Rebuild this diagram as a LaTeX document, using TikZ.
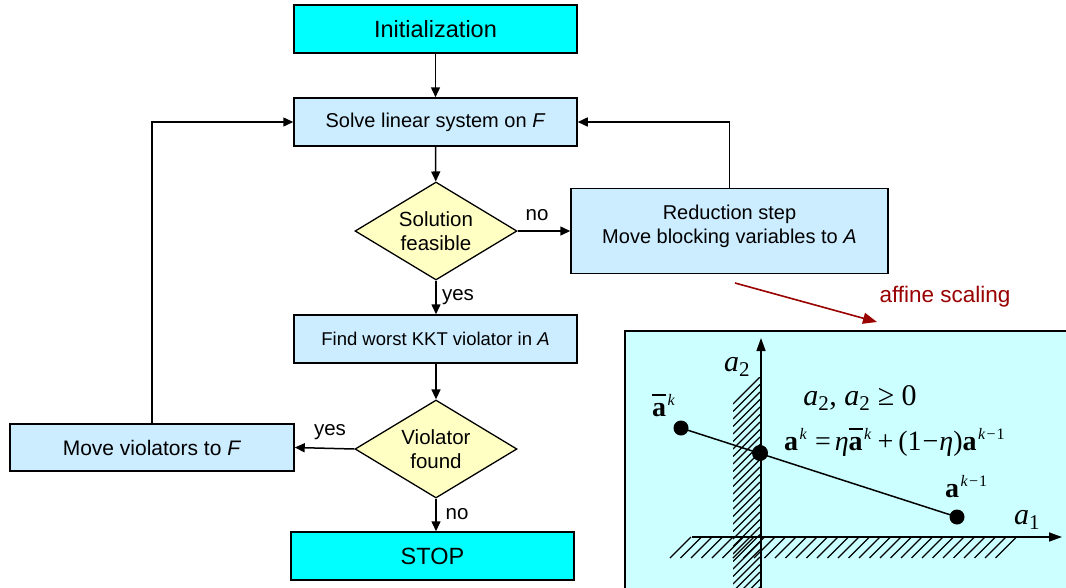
\documentclass[tikz,border=0pt]{standalone}
\usepackage{fontspec}
\setmainfont{Liberation Sans}
\newfontfamily\tnr{Liberation Serif}
\usetikzlibrary{arrows.meta,shapes.geometric}
\definecolor{cyanbox}{HTML}{00FFFF}
\definecolor{lightblue}{HTML}{CCECFF}
\definecolor{lightyellow}{HTML}{FFFFC4}
\definecolor{panelcol}{HTML}{CCFFFF}
\definecolor{darkred}{HTML}{990000}
\newcommand\sps[1]{\hspace{1.5pt}\raisebox{10.5pt}{\fontsize{16}{16}\selectfont #1}}
\newcommand\abar{\rlap{\rule[20pt]{14pt}{1.6pt}}\textbf{a}}
\begin{document}
\begin{tikzpicture}[x=1pt,y=-1pt,
  box/.style={draw, line width=1.5pt, minimum width=283pt, minimum height=48pt, inner sep=0pt, fill=lightblue, font=\fontsize{20}{24}\selectfont},
  cbox/.style={box, fill=cyanbox, font=\fontsize{23.5}{28}\selectfont},
  dec/.style={diamond, draw, fill=lightyellow, line width=1.3pt, inner sep=0pt, aspect=1.65, minimum width=162pt, minimum height=98pt, align=center, font=\fontsize{20.5}{24.5}\selectfont},
  conn/.style={line width=1.5pt, -{Triangle[length=10pt,width=9pt]}},
  lbl/.style={font=\fontsize{20.5}{24}\selectfont, inner sep=0pt},
  hatch/.style={line width=1.1pt},
  axis/.style={line width=1.5pt, -{Triangle[length=13pt,width=9pt]}},
  dot/.style={circle, fill=black, inner sep=0pt, minimum size=15pt},
  mathlbl/.style={inner sep=0pt, font=\tnr\fontsize{30}{30}\selectfont},
  formlbl/.style={inner sep=0pt, font=\tnr\fontsize{28}{28}\selectfont}
]
\useasboundingbox (0,0) rectangle (1066,587);

% flowchart
\node[cbox] (init) at (435.5,29) {Initialization};
\node[box] (solve) at (435.5,122) {Solve linear system on \textit{F}};
\node[dec] (d1) at (436,231) {Solution\\feasible};
\node[box, minimum width=317pt, minimum height=85pt,
  label={[anchor=north, align=center, inner sep=0pt, yshift=-17pt, font=\fontsize{20}{24}\selectfont]north:{Reduction step\\Move blocking variables to \textit{A}}}] (red) at (729.5,231) {};
\node[box, font=\fontsize{18.5}{22}\selectfont] (find) at (435.5,339) {Find worst KKT violator in \textit{A}};
\node[dec] (d2) at (436,449) {Violator\\found};
\node[box, minimum width=284pt, minimum height=47pt, font=\fontsize{21}{25}\selectfont] (move) at (152,447.5) {Move violators to \textit{F}};
\node[cbox] (stop) at (432.5,556) {STOP};

\draw[conn] (init) -- (solve);
\draw[conn] (solve) -- (d1);
\draw[conn] (d1.east) -- (red.west);
\node[lbl] (lno1) at (537,215) {no};
\draw[conn] (red.north) |- (solve.east);
\draw[conn] (d1.south) -- (d1.south |- find.north);
\node[lbl] (lyes1) at (458,297) {yes};
\draw[conn] (find.south -| d2.north) -- (d2.north);
\draw[conn] (d2.west) -- (move.east);
\node[lbl] (lyes2) at (330,432) {yes};
\draw[conn] (move.north) |- (solve.west);
\draw[conn] (d2.south) -- (d2.south |- stop.north);
\node[lbl] (lno2) at (457,514) {no};

% affine scaling arrow
\coordinate (rs) at (735,283);
\coordinate (re) at (877,322);
\draw[darkred, line width=1.6pt, -{Triangle[length=14pt,width=11pt]}] (rs) -- (re);
\node[inner sep=0pt, text=darkred, font=\fontsize{22.5}{26}\selectfont] (aff) at (945,297) {affine scaling};

% panel
\fill[panelcol] (625,331) rectangle (1075,595);
\draw[line width=1.5pt] (625,595) -- (625,331) -- (1075,331);

% hatching
\begin{scope}
  \clip (733,377) rectangle (760,595);
  \foreach \y in {377,384.5,...,600} \draw[hatch] (733,\y+27) -- (760,\y);
\end{scope}
\foreach \x in {670,680.5,...,1000} \draw[hatch] (\x,558) -- (\x+21,537);

% axes
\coordinate (ybot) at (761,590);
\coordinate (ytop) at (761,338);
\coordinate (xleft) at (692,537);
\coordinate (xright) at (1062,537);
\draw[axis] (ybot) -- (ytop);
\draw[axis] (xleft) -- (xright);

% segment and points
\coordinate (pa) at (681,428);
\coordinate (pb) at (760,453);
\coordinate (pc) at (957,517);
\draw[line width=1.5pt] (pa) -- (pc);
\node[dot] (dpa) at (pa) {};
\node[dot, minimum size=16pt] (dpb) at (pb) {};
\node[dot] (dpc) at (pc) {};

% labels
\node[mathlbl] (la2) at (737,367) {\textit{a}\textsubscript{2}};
\node[mathlbl] (la1) at (1027,520) {\textit{a}\textsubscript{1}};
\node[mathlbl] (cons) at (860,398) {\textit{a}\textsubscript{2}, \textit{a}\textsubscript{2} ≥ 0};
\node[formlbl, anchor=base west] (labar) at (652,416) {\abar\sps{\textit{k}}};
\node[formlbl, anchor=base west] (lform) at (784,450) {\textbf{a}\sps{\textit{k}}\hspace{8pt}=\hspace{4pt}\textit{η}\abar\sps{\textit{k}}\hspace{6pt}+\hspace{5pt}(1\hspace{1pt}−\hspace{1pt}\textit{η})\textbf{a}\sps{\textit{k}\hspace{1pt}−\hspace{1pt}1}};
\node[formlbl, anchor=base west] (lak1) at (945,497) {\textbf{a}\sps{\textit{k}\hspace{1pt}−\hspace{1pt}1}};
\end{tikzpicture}
\end{document}
